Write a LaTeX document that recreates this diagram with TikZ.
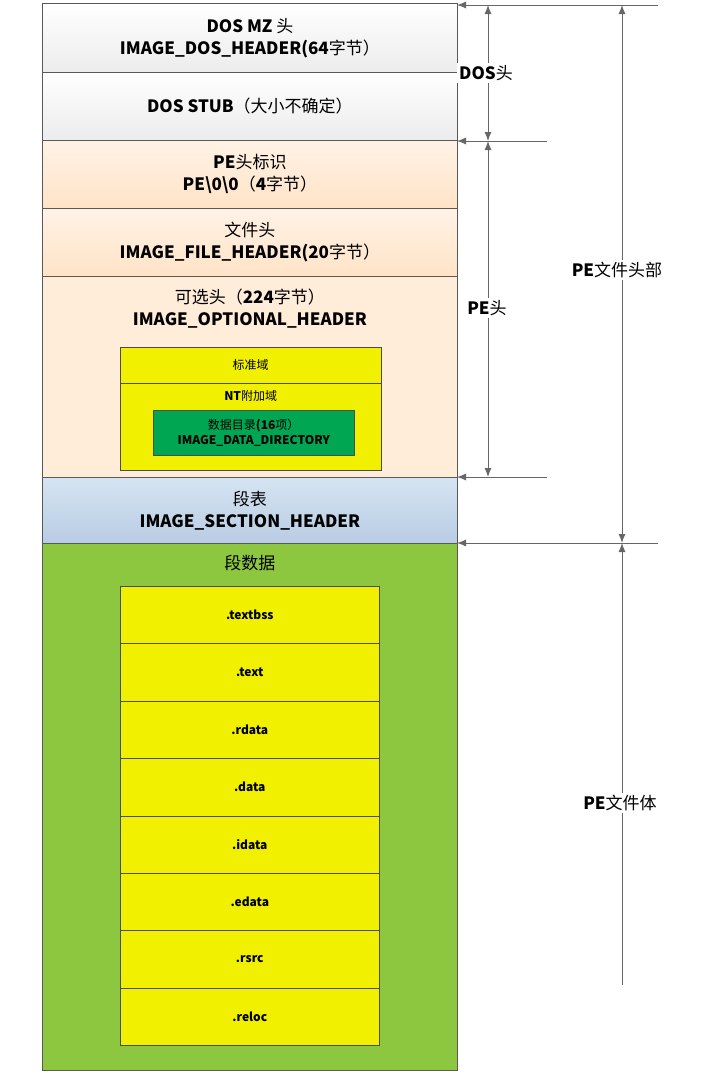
\documentclass[tikz,border=0pt]{standalone}
\usepackage{fontspec}
\setmainfont{Noto Sans CJK SC}
\usetikzlibrary{arrows.meta}
\definecolor{yel}{RGB}{240,240,0}
\definecolor{grn}{RGB}{141,198,63}
\definecolor{ddg}{RGB}{0,166,81}
\definecolor{bl1}{RGB}{214,228,242}
\definecolor{bl2}{RGB}{184,204,228}
\begin{document}
\begin{tikzpicture}[x=1pt,y=-1pt,
 blk/.style={draw=gray!70!black,line width=0.8pt,minimum width=415pt,anchor=north west,inner sep=0pt,align=center,font=\fontsize{17}{22}\selectfont},
 sec/.style={draw=gray!60!black,fill=yel,line width=0.6pt,minimum width=259pt,minimum height=57.4pt,anchor=north west,inner sep=0pt,font=\fontsize{12}{14}\selectfont\bfseries},
 dim/.style={draw=gray!80!black,line width=1pt},
 arr/.style={dim,-{Latex[length=9pt,width=7pt]}},
 lab/.style={fill=white,inner sep=2pt,font=\fontsize{17}{20}\selectfont}]
\useasboundingbox (0,0) rectangle (709,1080);
\node[blk,minimum height=69pt,top color=white,bottom color=gray!15] (mz) at (42,3) {{\bfseries DOS MZ} 头\\{\bfseries IMAGE\_DOS\_HEADER(64}字节）};
\node[blk,minimum height=68pt,top color=white,bottom color=gray!15] (stub) at (42,72) {{\bfseries DOS STUB}（大小不确定）};
\node[blk,minimum height=68pt,top color=orange!10,bottom color=orange!22] (pe) at (42,140) {{\bfseries PE}头标识\\{\bfseries PE\textbackslash0\textbackslash0}（{\bfseries 4}字节）};
\node[blk,minimum height=68pt,top color=orange!10,bottom color=orange!22] (fh) at (42,208) {文件头\\{\bfseries IMAGE\_FILE\_HEADER(20}字节）};
\node[blk,minimum height=201pt,fill=orange!15,text depth=140pt] (oh) at (42,276) {可选头（{\bfseries 224}字节）\\{\bfseries IMAGE\_OPTIONAL\_HEADER}};
\node[blk,minimum height=66pt,top color=bl1,bottom color=bl2] (st) at (42,477) {段表\\{\bfseries IMAGE\_SECTION\_HEADER}};
\node[blk,minimum height=527pt,fill=grn,text depth=490pt] (sd) at (42,543) {段数据};
\node[draw=gray!60!black,fill=yel,minimum width=261pt,minimum height=36pt,anchor=north west,inner sep=0pt,font=\fontsize{12}{14}\selectfont] (std) at (120,347) {标准域};
\node[draw=gray!60!black,fill=yel,minimum width=261pt,minimum height=87pt,anchor=north west,inner sep=0pt,text depth=62pt,font=\fontsize{12}{14}\selectfont] (nt) at (120,383) {{\bfseries NT}附加域};
\node[draw=gray!60!black,fill=ddg,minimum width=201pt,minimum height=45pt,anchor=north west,inner sep=0pt,align=center,font=\fontsize{12}{15}\selectfont] (dd) at (153,410) {数据目录{\bfseries (16}项）\\{\bfseries IMAGE\_DATA\_DIRECTORY}};
\foreach \n [count=\i from 0] in {textbss,text,rdata,data,idata,edata,rsrc,reloc}
  \node[sec] (s\i) at (120,586+57.4*\i) {.\n};
% dimension lines
\coordinate (t0) at (658,5); \coordinate (t1) at (547,141); \coordinate (t2) at (547,477); \coordinate (t3) at (658,543);
\draw[arr] (t0) -- (457,5);
\draw[arr] (t1) -- (457,141);
\draw[arr] (t2) -- (457,477);
\draw[arr] (t3) -- (457,543);
\draw[arr,{Latex[length=9pt,width=7pt]}-{Latex[length=9pt,width=7pt]}] (488,5) -- (488,141);
\draw[arr,{Latex[length=9pt,width=7pt]}-{Latex[length=9pt,width=7pt]}] (488,141) -- (488,477);
\draw[arr,{Latex[length=9pt,width=7pt]}-{Latex[length=9pt,width=7pt]}] (622,5) -- (622,543);
\draw[arr,{Latex[length=9pt,width=7pt]}-] (622,543) -- (622,985);
\node[lab] (l1) at (486,73) {{\bfseries DOS}头};
\node[lab] (l2) at (487,308) {{\bfseries PE}头};
\node[lab] (l3) at (617,270) {{\bfseries PE}文件头部};
\node[lab] (l4) at (620,803) {{\bfseries PE}文件体};
\end{tikzpicture}
\end{document}
